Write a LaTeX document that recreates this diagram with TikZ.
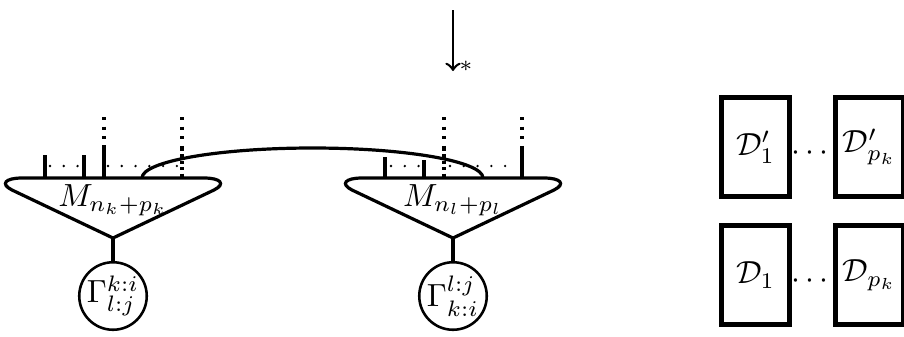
\documentclass[tikz,border=0pt]{standalone}
\begin{document}
\begin{tikzpicture}[x=0.3125pt,y=-0.3125pt,
  thk/.style={line width=1pt},
  gam/.style={circle, draw, line width=0.8pt, minimum size=21.1pt, inner sep=0pt},
  dbox/.style={draw, line width=1.6pt, minimum width=21.25pt, minimum height=30.94pt, inner sep=0pt},
  legdot/.style={line width=1pt, dash pattern=on 1pt off 2pt},
  legdense/.style={line width=1pt, dash pattern=on 1pt off 1pt},
  hdots/.style={line width=0.8pt, dash pattern=on 0pt off 4.3pt, line cap=round},
  mtri/.pic={
    \draw[thk] (0,0) -- (-101,-48) .. controls (-113,-54) and (-108,-60) .. (-91,-60)
      -- (91,-60) .. controls (108,-60) and (113,-54) .. (101,-48) -- cycle;
  }]
\useasboundingbox (0,0) rectangle (904,336);

% left block
\pic at (113,238) {mtri};
\coordinate (kbot) at (113,238);
\node (mk) at (113,200) {$M_{n_k+p_k}$};
\node[gam] (gk) at (113,296) {$\Gamma^{k:i}_{l:j}$};
\draw[thk] (kbot) -- (gk);
\draw[thk] (45,178) -- (45,155);
\draw[thk] (84,178) -- (84,155);
\draw[thk] (104,178) -- (104,145);
\draw[legdot] (104,117) -- (104,145);
\draw[legdot] (182,117) -- (182,148);
\draw[legdense] (182,148) -- (182,178);
\draw[hdots] (50,166) -- (80,166);
\draw[hdots] (108,166) -- (178,166);

% right block
\pic at (453,238) {mtri};
\coordinate (lbot) at (453,238);
\node (ml) at (453,200) {$M_{n_l+p_l}$};
\node[gam] (gl) at (453,296) {$\Gamma^{l:j}_{k:i}$};
\draw[thk] (lbot) -- (gl);
\draw[thk] (385,178) -- (385,157);
\draw[thk] (424,178) -- (424,160);
\draw[legdot] (444,117) -- (444,148);
\draw[legdense] (444,148) -- (444,178);
\draw[legdot] (522,117) -- (522,148);
\draw[thk] (522,148) -- (522,178);
\draw[hdots] (391,166) -- (419,166);
\draw[hdots] (450,166) -- (517,166);

% arc joining the blocks
\coordinate (aL) at (142,178);
\coordinate (aT) at (312.5,148);
\coordinate (aR) at (483,178);
\draw[thk] (aL) .. controls +(0,-16.6) and +(-94.2,0) .. (aT)
  .. controls +(94.2,0) and +(0,-16.6) .. (aR);

% top arrow
\coordinate (atop) at (453,10);
\coordinate (abot) at (453,71);
\draw[line width=0.8pt,->] (atop) -- (abot);
\node[inner sep=0pt] (star) at (466,66) {$\scriptstyle *$};

% boxes
\node[dbox] (d1p) at (755.5,147) {$\mathcal{D}'_1$};
\node[dbox] (dpp) at (869.5,147) {$\mathcal{D}'_{p_k}$};
\node[inner sep=0pt] (dotsu) at (810,153) {$\cdots$};
\node[dbox] (d1) at (755.5,275) {$\mathcal{D}_1$};
\node[dbox] (dp) at (869.5,275) {$\mathcal{D}_{p_k}$};
\node[inner sep=0pt] (dotsl) at (810,281) {$\cdots$};
\end{tikzpicture}
\end{document}
